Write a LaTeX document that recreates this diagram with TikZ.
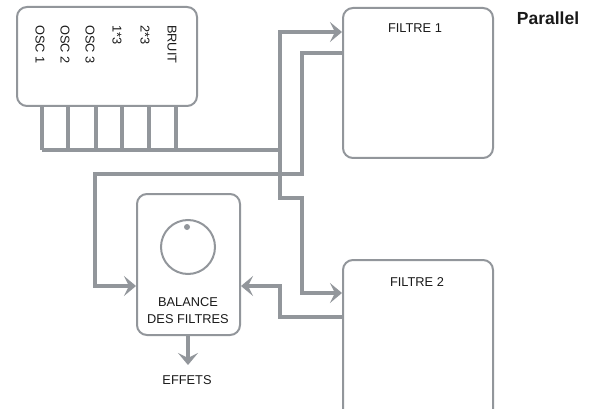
\documentclass[tikz,border=0pt]{standalone}
\usepackage{fontspec}
\setmainfont{Liberation Sans}
\usetikzlibrary{arrows.meta}
\definecolor{lg}{RGB}{146,150,155}
\definecolor{tx}{RGB}{25,25,25}
\begin{document}
\begin{tikzpicture}[x=1pt,y=-1pt,
  box/.style={draw=lg,line width=2pt,rounded corners=10pt,inner sep=0pt},
  conn/.style={draw=lg,line width=4pt,line join=miter},
  arr/.style={conn,-{Stealth[length=12pt,width=20pt,inset=5pt]}},
  lbl/.style={text=tx,font=\fontsize{12.8}{14}\selectfont,inner sep=0pt},
  srclbl/.style={lbl,rotate=-90,anchor=west}]
\useasboundingbox (0,0) rectangle (589,409);
\clip (0,0) rectangle (589,409);
% boxes
\node[box,minimum width=180pt,minimum height=99pt] (src) at (107,56.5) {};
\node[box,minimum width=150pt,minimum height=150pt] (f1) at (418,83) {};
\node[box,minimum width=150pt,minimum height=170pt] (f2) at (418,345) {};
\node[box,minimum width=103pt,minimum height=141pt] (bal) at (188.5,264.5) {};
\node[draw=lg,line width=2pt,circle,minimum size=54pt,inner sep=0pt] (knob) at (188,247) {};
\node[fill=lg,circle,minimum size=6pt,inner sep=0pt] (dot) at (187,227) {};
% labels
\node[srclbl] (l1) at (40,25) {OSC 1};
\node[srclbl] (l2) at (65,25) {OSC 2};
\node[srclbl] (l3) at (90,25) {OSC 3};
\node[srclbl] (l4) at (117,25) {1*3};
\node[srclbl] (l5) at (145,25) {2*3};
\node[srclbl] (l6) at (172,25) {BRUIT};
\node[lbl] (t1) at (415,28) {FILTRE 1};
\node[lbl] (t2) at (417,282) {FILTRE 2};
\node[lbl,align=center] (tb) at (188,311) {BALANCE\\[3pt]DES FILTRES};
\node[lbl] (te) at (187,380) {EFFETS};
\node[text=tx,font=\bfseries\fontsize{17.5}{19}\selectfont,inner sep=0pt] (par) at (548,18) {Parallel};
% bus
\coordinate (bus) at (280,150);
\foreach \x in {42,68,96,122,149,176}{
  \draw[conn] (src.south -| \x,0) -- (\x,150);
}
\draw[conn] (42,150) -- (bus);
% source to filters
\draw[arr] (bus) |- (f1.west |- 0,32);
\draw[arr] (bus) -- (280,198) -- (302,198) -- (302,293) -- (f2.west |- 0,293);
% filter 1 to balance
\draw[arr] (f1.west |- 0,53) -- (302,53) -- (302,174) -- (95,174) -- (95,286) -- (bal.west |- 0,286);
% filter 2 to balance
\draw[arr] (f2.west |- 0,317) -- (280,317) -- (280,286) -- (bal.east |- 0,286);
% out
\coordinate (out) at (188,365);
\draw[arr] (bal.south -| out) -- (out);
\end{tikzpicture}
\end{document}
